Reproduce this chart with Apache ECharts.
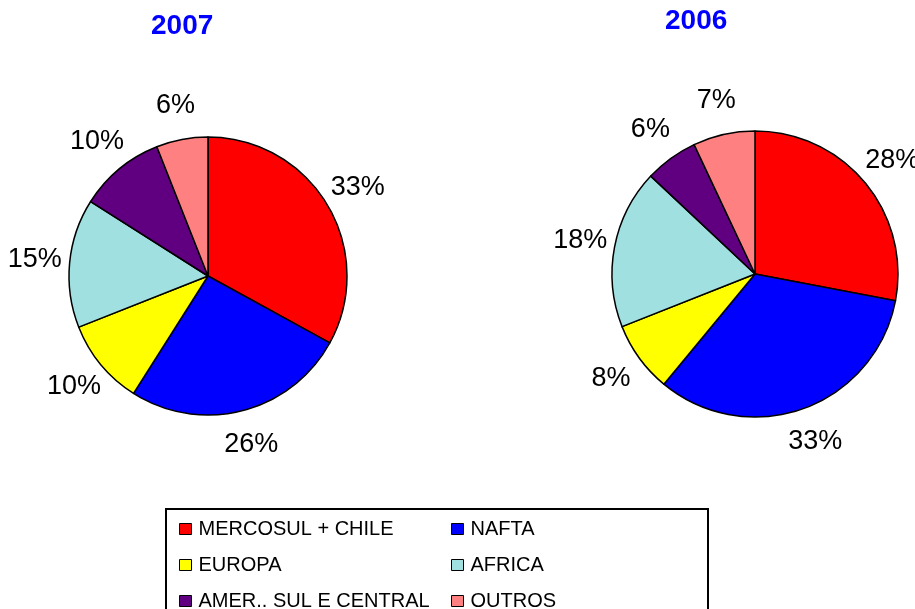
<!DOCTYPE html>
<html>
<head>
<meta charset="utf-8">
<script src="https://cdn.jsdelivr.net/npm/echarts@6/dist/echarts.min.js"></script>
<style>
  html, body { margin: 0; padding: 0; background: #fff; }
  #chart { width: 915px; height: 609px; }
</style>
</head>
<body>
<div id="chart"></div>
<script>
// ==================== DATA ====================
const regions = ['MERCOSUL + CHILE', 'NAFTA', 'EUROPA', 'AFRICA', 'AMER.. SUL E CENTRAL', 'OUTROS'];
const colors = ['#ff0000', '#0000ff', '#ffff00', '#a0e0e0', '#600080', '#ff8080'];
const share2007 = [33, 26, 10, 15, 10, 6];
const share2006 = [28, 33, 8, 18, 6, 7];
const years = ['2007', '2006'];

const FONT = 'Liberation Sans, Arial, sans-serif';
const LABEL_GAP = 35; // distance from arc to label centre

// centre the % labels on the slice bisector, a fixed gap outside the arc
function placeLabel(p) {
  const pts = p.labelLinePoints;
  if (!pts || pts.length < 2) return {};
  const dx = pts[1][0] - pts[0][0], dy = pts[1][1] - pts[0][1];
  const len = Math.hypot(dx, dy) || 1;
  return {
    x: pts[0][0] + dx / len * LABEL_GAP,
    y: pts[0][1] + dy / len * LABEL_GAP,
    align: 'center',
    verticalAlign: 'middle'
  };
}

function pieSeries(name, values, center, radius) {
  return {
    name: name,
    type: 'pie',
    center: center,
    radius: radius,
    startAngle: 90,
    clockwise: true,
    avoidLabelOverlap: false,
    animation: false,
    data: regions.map((r, i) => ({ name: r, value: values[i], itemStyle: { color: colors[i] } })),
    itemStyle: { borderColor: '#000', borderWidth: 1.5 },
    label: {
      show: true,
      position: 'outside',
      formatter: p => p.value + '%',
      color: '#000',
      fontSize: 27,
      fontFamily: FONT
    },
    labelLine: { show: true, length: 20, length2: 0, lineStyle: { opacity: 0 } },
    labelLayout: placeLabel,
    emphasis: { disabled: true }
  };
}

const chart = echarts.init(document.getElementById('chart'));
const legendCommon = {
  orient: 'vertical',
  top: 514,
  height: 200,
  itemWidth: 12,
  itemHeight: 11,
  itemGap: 16,
  icon: 'rect',
  selectedMode: false,
  itemStyle: { borderColor: '#000', borderWidth: 1 },
  textStyle: { color: '#000', fontSize: 20, fontFamily: FONT, padding: [0, 0, 0, 2] }
};

chart.setOption({
  backgroundColor: '#fff',
  title: [
    { text: years[0], left: 151, top: 12, padding: 0, textStyle: { color: '#0000ff', fontSize: 28, fontWeight: 'bold', fontFamily: FONT } },
    { text: years[1], left: 665, top: 7, padding: 0, textStyle: { color: '#0000ff', fontSize: 28, fontWeight: 'bold', fontFamily: FONT } }
  ],
  legend: [
    Object.assign({ left: 174, data: [regions[0], regions[2], regions[4]] }, legendCommon),
    Object.assign({ left: 446, data: [regions[1], regions[3], regions[5]] }, legendCommon)
  ],
  graphic: [{
    type: 'rect',
    shape: { x: 166, y: 509, width: 542, height: 140 },
    style: { fill: 'none', stroke: '#000', lineWidth: 2 },
    z: -1
  }],
  series: [
    pieSeries(years[0], share2007, [208, 276], 139),
    pieSeries(years[1], share2006, [755, 274], 143)
  ]
});
</script>
</body>
</html>
